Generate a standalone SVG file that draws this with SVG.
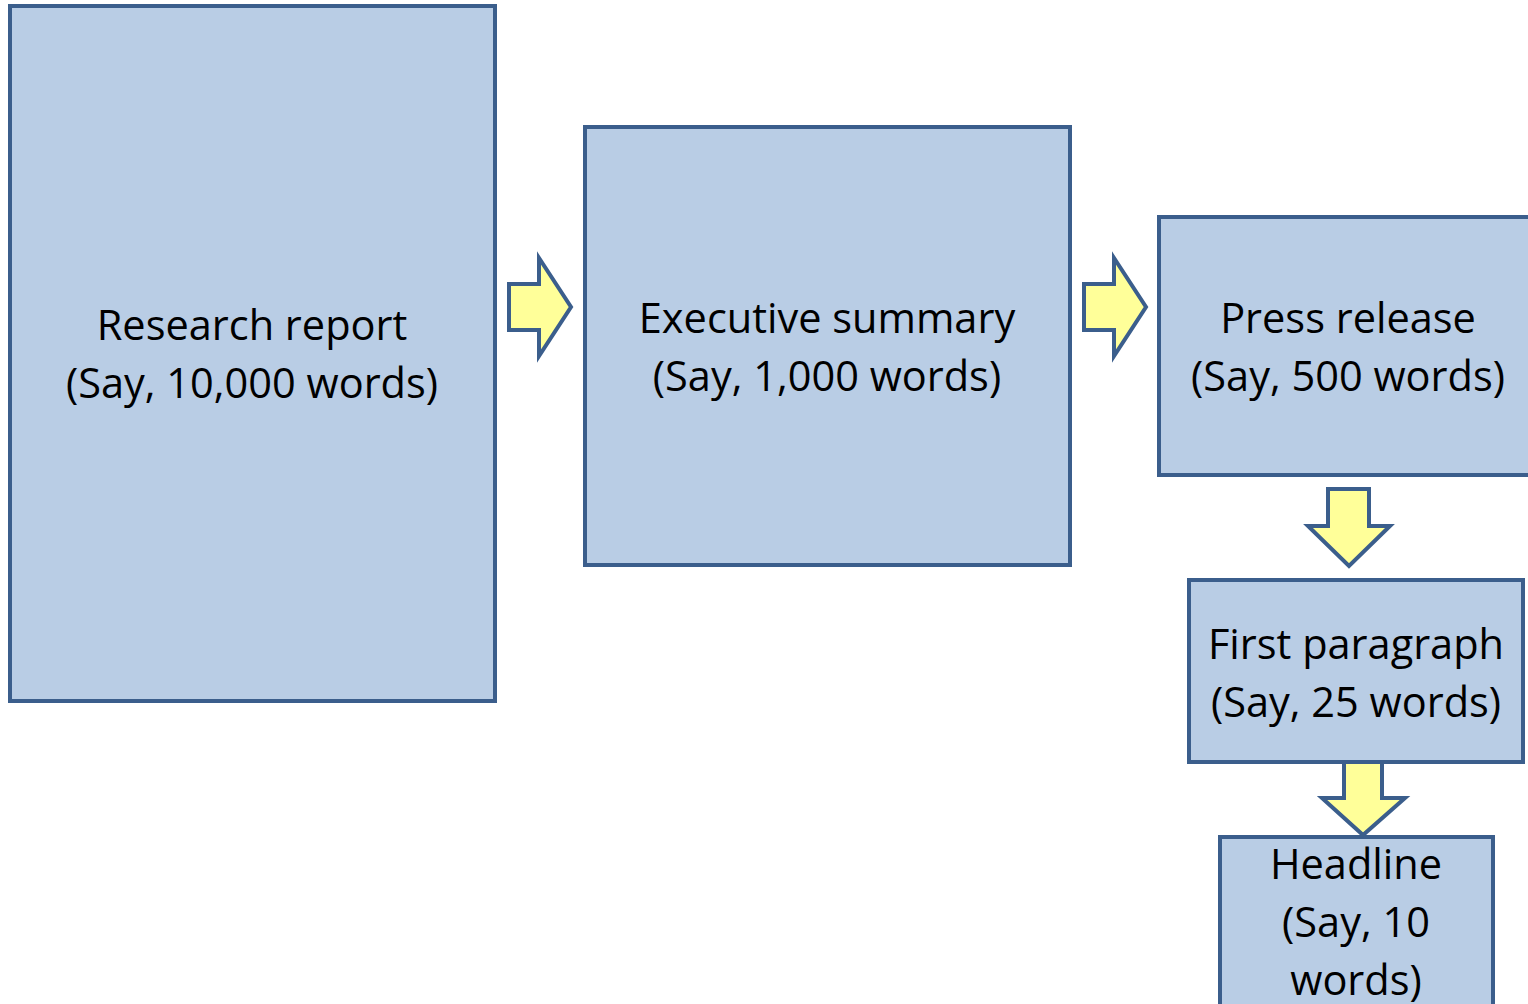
<svg xmlns="http://www.w3.org/2000/svg" width="1528" height="1004" viewBox="0 0 1528 1004">
<style>
.box{fill:#b9cde5;stroke:#3b5e8c;stroke-width:4}
.arr{fill:#ffff99;stroke:#3b5e8c;stroke-width:4;stroke-linejoin:miter}
.t{font-family:"Open Sans","Liberation Sans",sans-serif;font-size:41.5px;fill:#000;text-anchor:middle}
</style>
<rect width="1528" height="1004" fill="#fff"/>
<g id="research">
<rect class="box" x="10" y="6" width="485" height="695"/>
<text class="t" x="252" y="340">Research report</text>
<text class="t" x="252" y="398">(Say, 10,000 words)</text>
</g>
<g id="executive">
<rect class="box" x="585" y="127" width="485" height="438"/>
<text class="t" x="827" y="333">Executive summary</text>
<text class="t" x="827" y="391">(Say, 1,000 words)</text>
</g>
<g id="press">
<rect class="box" x="1159" y="217" width="380" height="258"/>
<text class="t" x="1348" y="333">Press release</text>
<text class="t" x="1348" y="391">(Say, 500 words)</text>
</g>
<g id="first">
<rect class="box" x="1189" y="580" width="334" height="182"/>
<text class="t" x="1356" y="659">First paragraph</text>
<text class="t" x="1356" y="717">(Say, 25 words)</text>
</g>
<g id="headline">
<rect class="box" x="1220" y="837" width="273" height="180"/>
<text class="t" x="1356" y="879">Headline</text>
<text class="t" x="1356" y="937">(Say, 10</text>
<text class="t" x="1356" y="995">words)</text>
</g>
<g id="connectors">
<path class="arr" d="M509,284 H539 V258 L571,307 L539,356 V330 H509 Z"/>
<path class="arr" d="M1084,284 H1114 V258 L1146,307 L1114,356 V330 H1084 Z"/>
<path class="arr" d="M1328,489 H1369 V526 H1390 L1349,566 L1308,526 H1328 Z"/>
<path class="arr" d="M1344,762 H1382 V798 H1405 L1363,835 L1322,798 H1344 Z"/>
</g>
</svg>
